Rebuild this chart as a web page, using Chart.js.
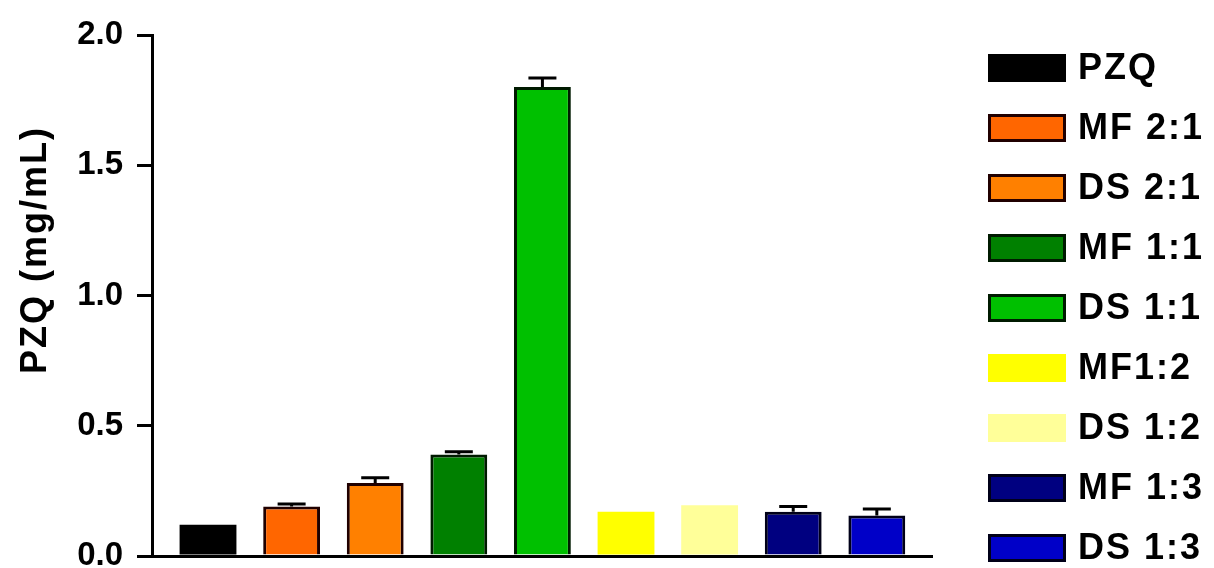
<!DOCTYPE html>
<html>
<head>
    <title>PZQ</title>
    <script src="https://cdn.jsdelivr.net/npm/chart.js@4/dist/chart.umd.min.js"></script>
    <style>
        body { margin: 0; background: #fff; }
        #wrap { width: 1214px; height: 568px; position: relative; }
    </style>
</head>
<body>
<div id="wrap"><canvas id="myChart"></canvas></div>

<script>
// data
var labels = ['PZQ', 'MF 2:1', 'DS 2:1', 'MF 1:1', 'DS 1:1', 'MF1:2', 'DS 1:2', 'MF 1:3', 'DS 1:3'];
var means = [0.12, 0.19, 0.28, 0.39, 1.80, 0.17, 0.195, 0.17, 0.155];
var sems = [0, 0.01, 0.02, 0.01, 0.035, 0, 0, 0.02, 0.025];
var yTicks = [0, 0.5, 1.0, 1.5, 2.0];
var yTitle = 'PZQ (mg/mL)';

var fills = ['#000000', '#ff6600', '#ff8000', '#008000', '#00c000', '#ffff00', '#ffff99', '#000080', '#0000c8'];
var edges = ['#000000', '#200000', '#200000', '#001a00', '#001a00', '#ffff00', '#ffff99', '#000018', '#000018'];
var edgeW = [0, 3, 3, 3, 3, 0, 0, 3, 3];

var FONT = "'Liberation Sans', Arial, sans-serif";

// error bars (mean + SEM, upper only)
var errorBars = {
    id: 'errorBars',
    afterDatasetsDraw: function(chart) {
        var ctx = chart.ctx, xs = chart.scales.x, ys = chart.scales.y;
        ctx.save();
        ctx.strokeStyle = '#000';
        ctx.lineWidth = 3;
        for (var i = 0; i < means.length; i++) {
            if (!sems[i]) continue;
            var x = xs.getPixelForValue(i);
            var y0 = ys.getPixelForValue(means[i]);
            var y1 = ys.getPixelForValue(means[i] + sems[i]);
            ctx.beginPath();
            ctx.moveTo(x, y0);
            ctx.lineTo(x, y1);
            ctx.moveTo(x - 14, y1);
            ctx.lineTo(x + 14, y1);
            ctx.stroke();
        }
        ctx.restore();
    }
};

// legend on the right + rotated y title
var sideText = {
    id: 'sideText',
    afterDraw: function(chart) {
        var ctx = chart.ctx;
        ctx.save();
        ctx.letterSpacing = '2px';
        ctx.font = 'bold 36px ' + FONT;
        ctx.textBaseline = 'middle';
        ctx.fillStyle = '#000';
        for (var i = 0; i < labels.length; i++) {
            var cy = 68 + i * 60;
            ctx.fillStyle = fills[i];
            ctx.fillRect(988, cy - 14, 78, 28);
            if (edgeW[i]) {
                ctx.strokeStyle = edges[i];
                ctx.lineWidth = 3;
                ctx.strokeRect(989.5, cy - 12.5, 75, 25);
            }
            ctx.fillStyle = '#000';
            ctx.textAlign = 'left';
            ctx.fillText(labels[i], 1078, cy + 1);
        }
        ctx.translate(36, 250);
        ctx.rotate(-Math.PI / 2);
        ctx.textAlign = 'center';
        ctx.fillText(yTitle, 0, 0);
        ctx.restore();
    }
};

var ctx = document.getElementById('myChart').getContext('2d');
var myChart = new Chart(ctx, {
    type: 'bar',
    data: {
        datasets: [{
            data: means.map(function(v, i) { return {x: i, y: v}; }),
            backgroundColor: fills,
            borderColor: edges,
            borderWidth: edgeW,
            borderSkipped: 'bottom',
            barPercentage: 0.68,
            categoryPercentage: 1
        }]
    },
    options: {
        responsive: true,
        maintainAspectRatio: false,
        animation: false,
        layout: { padding: { left: 0, right: 282, top: 35, bottom: 12 } },
        plugins: { legend: { display: false }, tooltip: { enabled: false } },
        scales: {
            x: {
                type: 'linear',
                offset: false,
                min: -0.67,
                max: 8.66,
                afterBuildTicks: function(axis) {
                    axis.ticks = means.map(function(v, i) { return {value: i}; });
                },
                ticks: { display: false },
                grid: { display: false, drawTicks: false },
                border: { display: true, color: '#000', width: 3 },
                afterFit: function(axis) { axis.height = 0; }
            },
            y: {
                min: 0,
                max: 2,
                afterBuildTicks: function(axis) {
                    axis.ticks = yTicks.map(function(v) { return {value: v}; });
                },
                ticks: {
                    color: '#000',
                    padding: 14,
                    font: { family: FONT, size: 33, weight: 'bold' },
                    callback: function(v) { return v.toFixed(1); }
                },
                grid: { drawOnChartArea: false, drawTicks: true, tickLength: 15, lineWidth: 3, color: '#000' },
                border: { display: true, color: '#000', width: 3 },
                afterFit: function(axis) {
                    axis.width = 152;
                    axis.paddingTop = 0;
                    axis.paddingBottom = 0;
                }
            }
        }
    },
    plugins: [errorBars, sideText]
});
</script>
</body>
</html>
